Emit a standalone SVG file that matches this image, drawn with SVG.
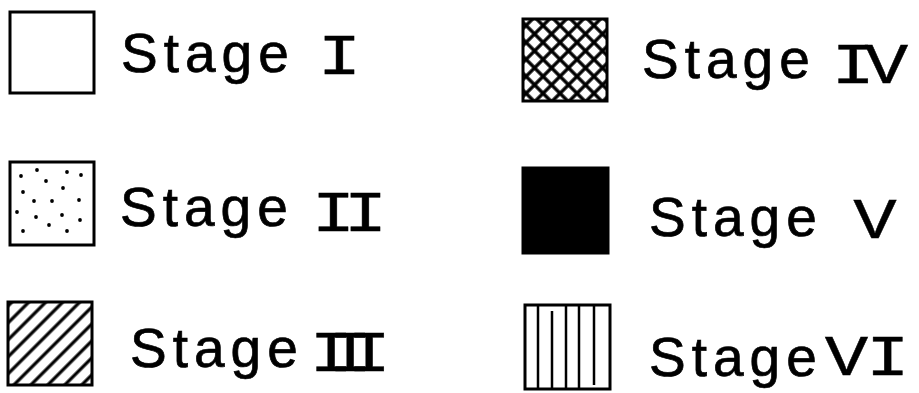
<svg xmlns="http://www.w3.org/2000/svg" width="919" height="393" viewBox="0 0 919 393">
<defs>
<style>
.box{fill:#fff;stroke:#000;stroke-width:3}
.lbl{font-family:"Liberation Sans",Arial,sans-serif;font-size:55px;letter-spacing:6px;fill:#000;stroke:#000;stroke-width:0.7}
.num{font-family:"Liberation Mono","Courier New",monospace;font-size:58px;fill:#000;stroke:#000;stroke-width:0.4}
.dot{fill:#000}
.vl{stroke:#000;stroke-width:2.5}
</style>
<pattern id="diag" patternUnits="userSpaceOnUse" width="12" height="12" patternTransform="rotate(45)">
<line x1="6" y1="0" x2="6" y2="12" stroke="#000" stroke-width="3.2"/>
</pattern>
<pattern id="cross" patternUnits="userSpaceOnUse" width="12" height="12" patternTransform="rotate(45)">
<line x1="6" y1="0" x2="6" y2="12" stroke="#000" stroke-width="3.4"/>
<line x1="0" y1="6" x2="12" y2="6" stroke="#000" stroke-width="3.4"/>
</pattern>
</defs>
<rect width="919" height="393" fill="#fff"/>
<g id="connectors"/>
<g id="stage1">
<rect class="box" x="10" y="12" width="84" height="81"/>
<text class="lbl" x="121" y="72">Stage</text>
<text class="num" transform="translate(317.75,74) scale(1.25,1)">I</text>
</g>
<g id="stage2">
<rect class="box" x="10" y="162" width="84" height="83"/>
<g class="dot">
<circle cx="21" cy="176" r="1.9"/><circle cx="37" cy="170" r="1.9"/><circle cx="67" cy="172" r="1.9"/><circle cx="81" cy="175" r="1.9"/>
<circle cx="46" cy="181" r="1.9"/><circle cx="63" cy="188" r="1.9"/><circle cx="23" cy="192" r="1.9"/><circle cx="34" cy="201" r="1.9"/>
<circle cx="52" cy="201" r="1.9"/><circle cx="79" cy="200" r="1.9"/><circle cx="17" cy="212" r="1.9"/><circle cx="36" cy="217" r="1.9"/>
<circle cx="62" cy="215" r="1.9"/><circle cx="80" cy="220" r="1.9"/><circle cx="49" cy="225" r="1.9"/><circle cx="23" cy="231" r="1.9"/>
<circle cx="67" cy="231" r="1.9"/>
</g>
<text class="lbl" x="120" y="226">Stage</text>
<text class="num" transform="translate(311.75,231) scale(1.25,1)" letter-spacing="-9.2">II</text>
</g>
<g id="stage3">
<rect class="box" x="8" y="302" width="84" height="83" style="fill:url(#diag)"/>
<text class="lbl" x="130" y="367">Stage</text>
<text class="num" transform="translate(309.5,371) scale(1.25,1)" letter-spacing="-19.6">III</text>
</g>
<g id="stage4">
<rect class="box" x="523" y="19" width="84" height="82" style="fill:url(#cross)"/>
<text class="lbl" x="642" y="78">Stage</text>
<text class="num" transform="translate(831.5,83) scale(1.25,1)" letter-spacing="-8.2">IV</text>
</g>
<g id="stage5">
<rect class="box" x="523" y="168" width="85" height="85" style="fill:#000"/>
<text class="lbl" x="649" y="236">Stage</text>
<text class="num" transform="translate(875,238) scale(1.25,1)" text-anchor="middle">V</text>
</g>
<g id="stage6">
<rect class="box" x="525" y="305" width="85" height="84"/>
<line class="vl" x1="538" y1="305" x2="538" y2="389"/>
<line class="vl" x1="552" y1="311" x2="552" y2="389"/>
<line class="vl" x1="566" y1="305" x2="566" y2="389"/>
<line class="vl" x1="579" y1="305" x2="579" y2="389"/>
<line class="vl" x1="594" y1="305" x2="594" y2="385"/>
<text class="lbl" x="649" y="376">Stage</text>
<text class="num" transform="translate(824.75,375) scale(1.25,1)" letter-spacing="-1.8">VI</text>
</g>
</svg>
